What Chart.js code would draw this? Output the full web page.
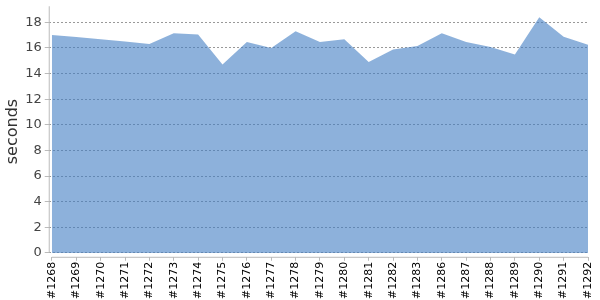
<!DOCTYPE html>
<html>
<head>
<meta charset="utf-8">
<script src="https://cdn.jsdelivr.net/npm/chart.js@4.4.1/dist/chart.umd.min.js"></script>
<style>
  html, body { margin: 0; padding: 0; background: #fff; }
  #wrap { width: 600px; height: 300px; }
</style>
</head>
<body>
<div id="wrap"><canvas id="durationChart"></canvas></div>
<script>
const builds = ['#1268', '#1269', '#1270', '#1271', '#1272', '#1273', '#1274', '#1275',
    '#1276', '#1277', '#1278', '#1279', '#1280', '#1281', '#1282', '#1283',
    '#1286', '#1287', '#1288', '#1289', '#1290', '#1291', '#1292'];
const durations = [17.0, 16.85, 16.67, 16.5, 16.3, 17.15, 17.05, 14.7,
    16.46, 16.0, 17.3, 16.46, 16.67, 14.9, 15.87, 16.15,
    17.15, 16.46, 16.07, 15.48, 18.4, 16.87, 16.25];
const yTicks = [0, 2, 4, 6, 8, 10, 12, 14, 16, 18];

// axis lines: y line stops at 0, x line starts at first build
const axisLines = {
    id: 'axisLines',
    afterDraw(chart) {
        const { ctx, chartArea, scales } = chart;
        ctx.save();
        ctx.strokeStyle = '#bbbbbb';
        ctx.lineWidth = 1;
        ctx.beginPath();
        ctx.moveTo(chartArea.left + 0.5, chartArea.top);
        ctx.lineTo(chartArea.left + 0.5, scales.y.getPixelForValue(0));
        ctx.moveTo(scales.x.getPixelForValue(0), chartArea.bottom + 0.5);
        ctx.lineTo(scales.x.getPixelForValue(builds.length - 1), chartArea.bottom + 0.5);
        ctx.stroke();
        ctx.restore();
    }
};

new Chart(document.getElementById('durationChart'), {
    type: 'line',
    data: {
        datasets: [{
            label: 'duration',
            data: durations.map((v, i) => ({ x: i, y: v })),
            fill: 'origin',
            backgroundColor: 'rgba(65, 125, 195, 0.6)',
            borderWidth: 0,
            pointRadius: 0,
            tension: 0
        }]
    },
    plugins: [axisLines],
    options: {
        responsive: true,
        maintainAspectRatio: false,
        animation: false,
        layout: { padding: { top: 0, right: 1, left: 0, bottom: 0 } },
        plugins: {
            legend: { display: false },
            tooltip: { enabled: false }
        },
        scales: {
            x: {
                type: 'linear',
                min: -0.13,
                max: builds.length - 1,
                afterBuildTicks: (scale) => {
                    scale.ticks = builds.map((b, i) => ({ value: i }));
                },
                border: { display: false },
                grid: {
                    drawOnChartArea: false,
                    tickLength: 4,
                    tickColor: '#bbbbbb'
                },
                ticks: {
                    autoSkip: false,
                    maxRotation: 90,
                    minRotation: 90,
                    padding: 1,
                    color: '#000',
                    font: { family: 'DejaVu Sans', size: 11, lineHeight: 1 },
                    callback: (v) => builds[v]
                }
            },
            y: {
                min: -0.3,
                max: 19.25,
                afterBuildTicks: (scale) => {
                    scale.ticks = yTicks.map(v => ({ value: v }));
                },
                border: { display: false, dash: [2, 2] },
                grid: {
                    color: 'rgba(0, 0, 0, 0.4)',
                    lineWidth: 1,
                    tickLength: 4,
                    tickColor: '#bbbbbb',
                    tickBorderDash: [0, 0]
                },
                ticks: {
                    padding: 3,
                    color: '#444',
                    font: { family: 'DejaVu Sans', size: 13, lineHeight: 0.5 }
                },
                title: {
                    display: true,
                    text: 'seconds',
                    color: '#333',
                    padding: { top: 3, bottom: 0 },
                    font: { family: 'DejaVu Sans', size: 16 }
                }
            }
        }
    }
});
</script>
</body>
</html>
